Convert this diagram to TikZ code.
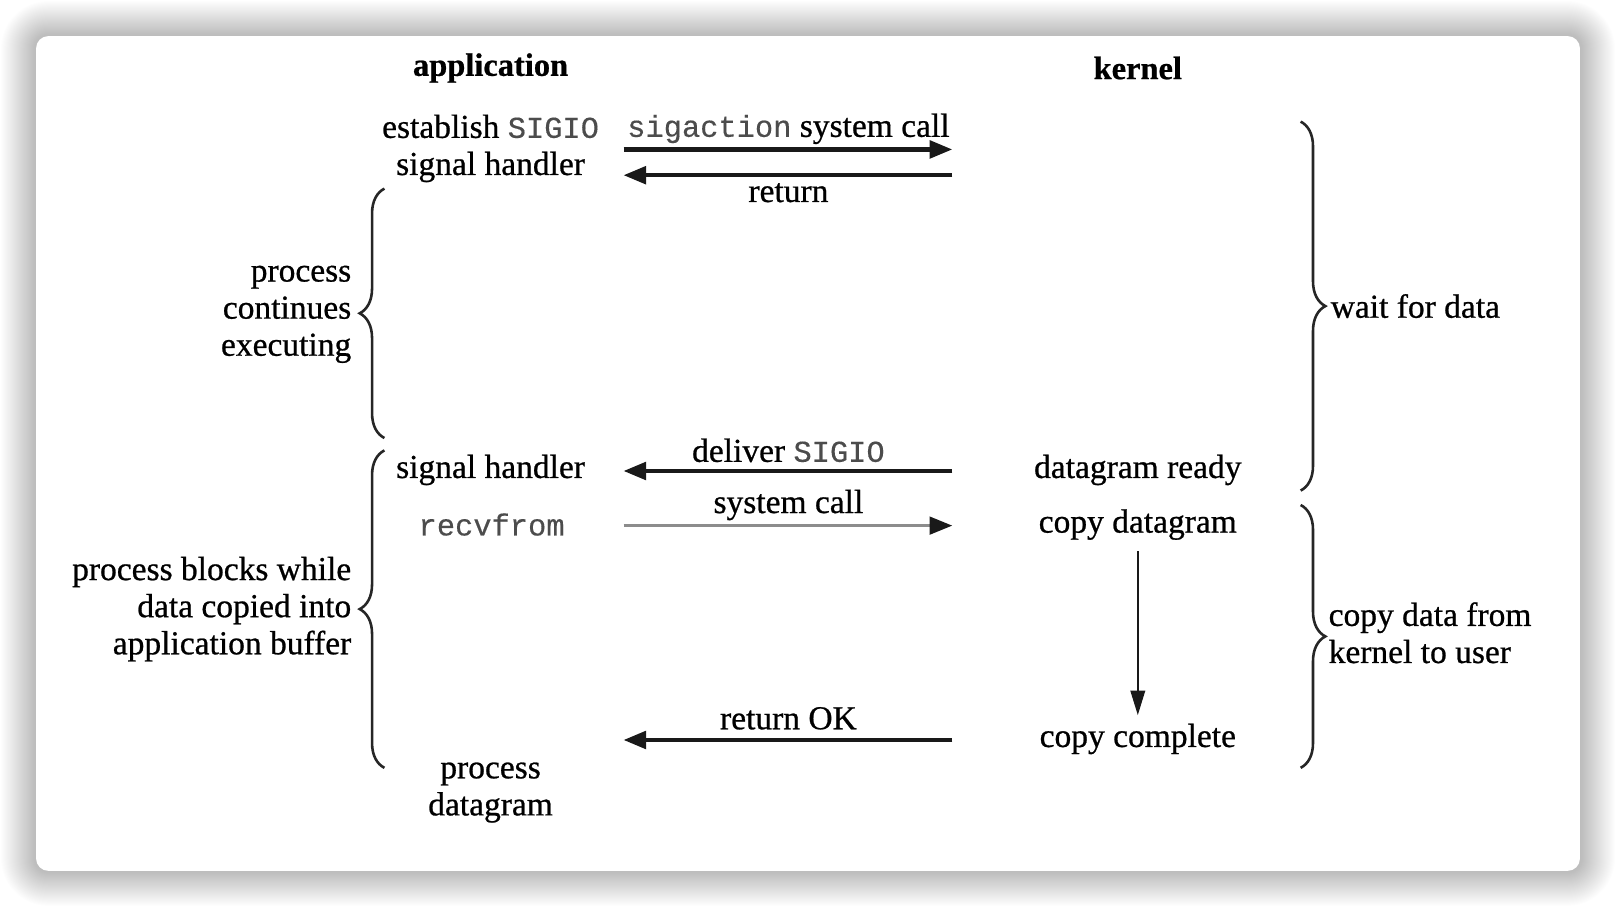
\documentclass[tikz,border=0pt]{standalone}
\usepackage{fontspec}
\setmainfont{Liberation Serif}[FakeBold=0.7]
\setmonofont{Liberation Mono}[FakeBold=0.3]
\usetikzlibrary{arrows.meta,decorations.pathreplacing}
\begin{document}
\begin{tikzpicture}[x=1pt,y=-1pt,
  lbl/.style={font=\fontsize{32.5}{36}\selectfont, inner sep=0pt, text=black},
  head/.style={font=\fontsize{31.5}{36}\selectfont\bfseries, inner sep=0pt, text=black},
  bigarrow/.style={line width=4pt, draw=black!90, -{Triangle[length=22pt,width=17pt]}},
  grayarrow/.style={line width=3pt, draw=black!45, -{Triangle[length=22pt,width=17pt,color=black!90]}},
  downarrow/.style={line width=2.5pt, draw=black!90, -{Triangle[length=24pt,width=14pt]}},
  bracestyle/.style={line width=2.5pt, draw=black!85, decorate, decoration={brace, amplitude=24pt}}
]
\newcommand\mtt[1]{{\fontsize{29.5}{36}\selectfont\ttfamily\color{black!70}#1}}
\useasboundingbox (0,0) rectangle (1568,881);
% shadow and card
\foreach \i in {1,...,34}
  \fill[black, opacity=0.006, rounded corners={12pt+\i pt}] (35-\i,35-\i) rectangle (1533+\i,845+\i);
\fill[white, rounded corners=12pt] (35,35) rectangle (1533,845);

% headings
\node[head] (app) at (476,66) {application};
\node[head] (ker) at (1104,66) {kernel};

% application column
\node[lbl, align=center] (est) at (476,144) {establish \mtt{SIGIO}\\signal handler};
\node[lbl] (sh) at (476,456) {signal handler};
\node[lbl] (recv) at (477,509) {\mtt{recvfrom}};
\node[lbl, align=center] (pd) at (476,769) {process\\datagram};

% kernel column
\node[lbl] (dr) at (1104,456) {datagram ready};
\node[lbl] (cd) at (1104,509) {copy datagram};
\node[lbl] (cc) at (1104,717) {copy complete};

% arrow labels
\node[lbl] (sig) at (765,125) {\mtt{sigaction} system call};
\node[lbl] (ret) at (765,187) {return};
\node[lbl] (del) at (765,437) {deliver \mtt{SIGIO}};
\node[lbl] (sc) at (765,490) {system call};
\node[lbl] (rok) at (765,697) {return OK};

% arrow end points
\coordinate (a1s) at (605,145); \coordinate (a1e) at (924,145);
\coordinate (a2s) at (924,170); \coordinate (a2e) at (605,170);
\coordinate (a3s) at (924,457); \coordinate (a3e) at (605,457);
\coordinate (a4s) at (605,510); \coordinate (a4e) at (924,510);
\coordinate (a5s) at (924,718); \coordinate (a5e) at (605,718);
\coordinate (d1s) at (1104,535); \coordinate (d1e) at (1104,694);

\draw[bigarrow] (a1s) -- (a1e);
\draw[bigarrow] (a2s) -- (a2e);
\draw[bigarrow] (a3s) -- (a3e);
\draw[grayarrow] (a4s) -- (a4e);
\draw[bigarrow] (a5s) -- (a5e);
\draw[downarrow] (d1s) -- (d1e);

% braces
\coordinate (lb1t) at (373,183); \coordinate (lb1b) at (373,425);
\coordinate (lb2t) at (373,437); \coordinate (lb2b) at (373,745);
\coordinate (rb1t) at (1262,118); \coordinate (rb1b) at (1262,476);
\coordinate (rb2t) at (1262,490); \coordinate (rb2b) at (1262,745);
\draw[bracestyle] (lb1b) -- (lb1t);
\draw[bracestyle] (lb2b) -- (lb2t);
\draw[bracestyle] (rb1t) -- (rb1b);
\draw[bracestyle] (rb2t) -- (rb2b);

% brace labels
\node[lbl, align=right, anchor=east] (pce) at (341,305) {process\\continues\\executing};
\node[lbl, align=right, anchor=east] (pbw) at (341,591) {process blocks while\\data copied into\\application buffer};
\node[lbl, anchor=west] (wfd) at (1291,297) {wait for data};
\node[lbl, align=left, anchor=west] (cdk) at (1289,614) {copy data from\\kernel to user};
\end{tikzpicture}
\end{document}
